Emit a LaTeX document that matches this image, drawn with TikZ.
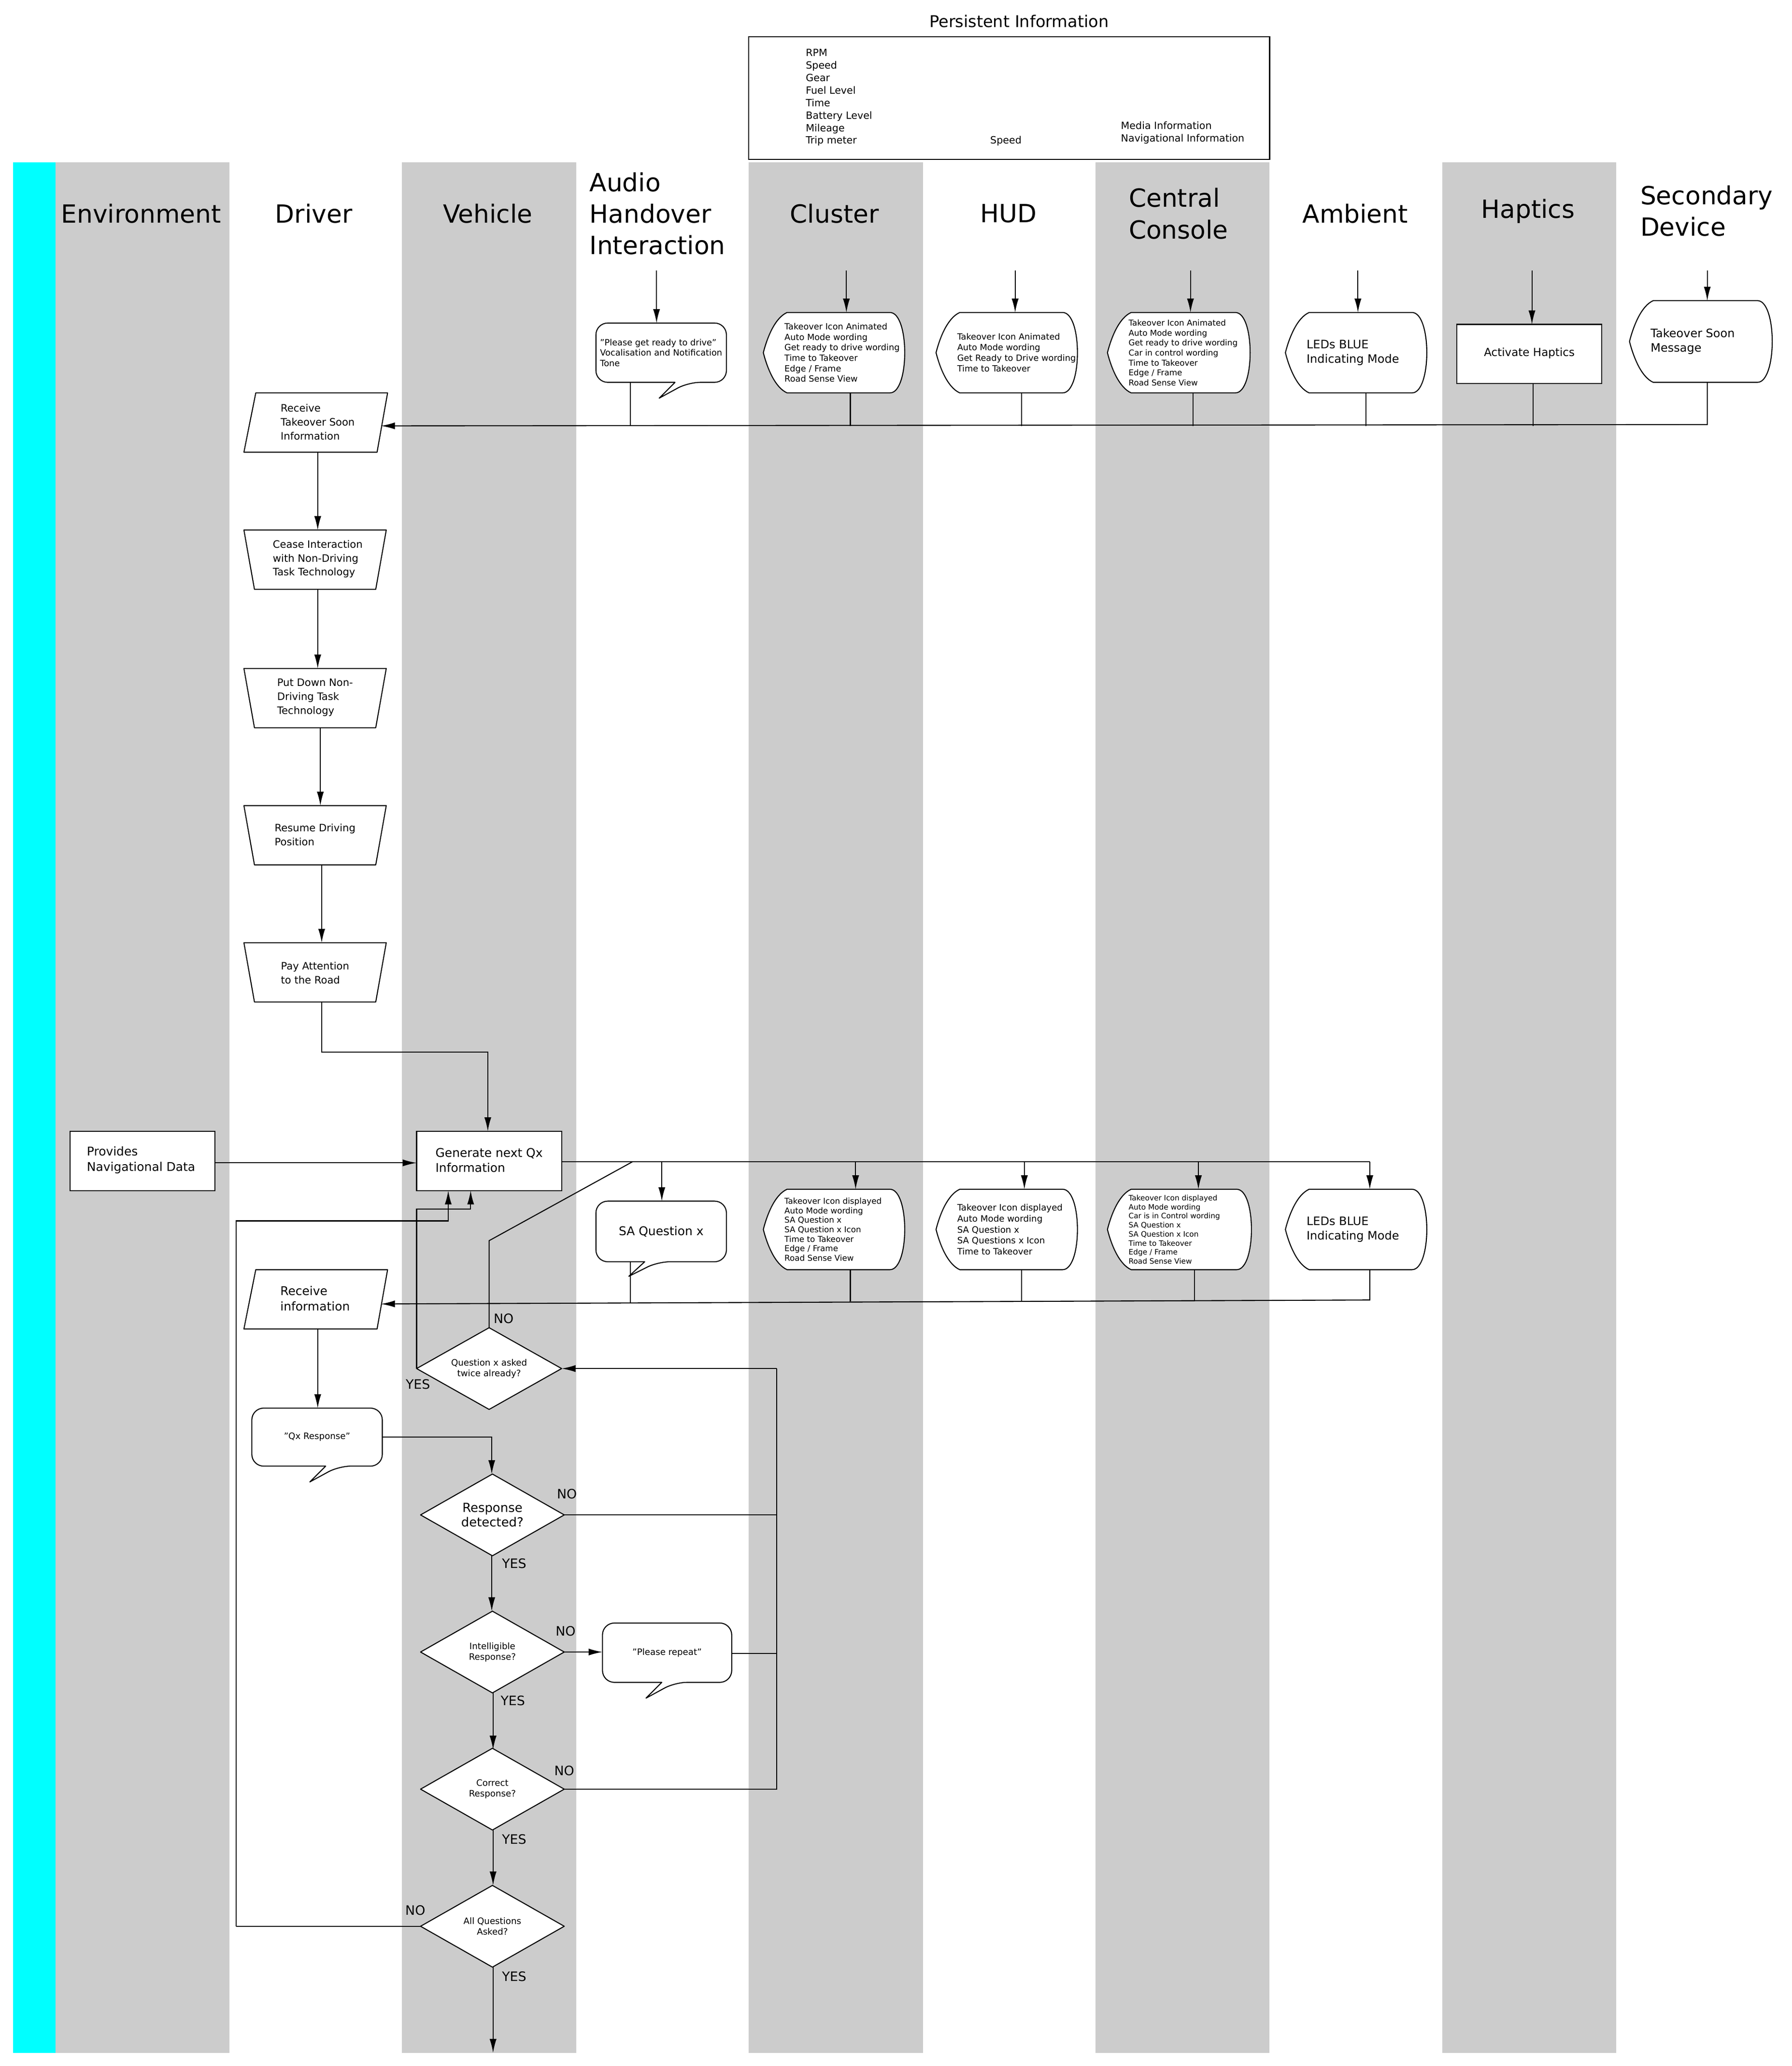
\documentclass[tikz,border=0pt]{standalone}
\usepackage{fontspec}
\setmainfont{DejaVu Sans}
\usetikzlibrary{arrows.meta}
\definecolor{lanegray}{RGB}{204,204,204}
\definecolor{lanecyan}{RGB}{0,255,255}
\tikzset{
 ln/.style={draw=black,line width=2.2pt},
 arr/.style={ln,-{Latex[length=30pt,width=15pt]}},
 shp/.style={ln,fill=white,line join=round},
 hdr/.style={font=\fontsize{54}{68}\selectfont,align=left},
 lbl/.style={font=\fontsize{28}{32}\selectfont},
 fmed/.style={font=\fontsize{26}{33}\selectfont},
 fsm/.style={font=\fontsize{22}{30}\selectfont},
 ftiny/.style={font=\fontsize{18.5}{22.5}\selectfont},
 fdia/.style={font=\fontsize{19}{23}\selectfont},
}
% name x1 y1 x2 y2 style text
\newcommand\mydisp[7]{%
 \draw[shp] ({#2+18},#3) -- ({#4-12},#3) .. controls ({#4+3},#3) and ({#4+3},#5) .. ({#4-12},#5) -- ({#2+18},#5) .. controls ({#2+9},{#5-4}) and ({#2+3},{(#3+#5)/2+12}) .. (#2,{(#3+#5)/2}) .. controls ({#2+3},{(#3+#5)/2-12}) and ({#2+9},{#3+4}) .. ({#2+18},#3) -- cycle;
 \node[#6,inner sep=0,align=left,anchor=west] (#1) at ({#2+16},{(#3+#5)/2}) {#7};}
% name x1 y1 x2 y2 tipx tipy style text
\newcommand\mycall[9]{%
 \draw[shp,rounded corners=9mm] (#2,#3) -- (#4,#3) -- (#4,#5) -- ({#6+22},#5) [sharp corners] -- (#6,#7) -- ({#6+12},#5) [rounded corners=9mm] -- (#2,#5) -- cycle;
 \node[#8,inner sep=0,minimum width={(#4-#2)*1mm},minimum height={(#5-#3)*1mm},align=left] (#1) at ({(#2+#4)/2},{(#3+#5)/2}) {#9};}
\newcommand\mydia[6]{%
 \draw[shp] (#2,#3) -- ({(#2+#4)/2},{#3-31}) -- (#4,#3) -- ({(#2+#4)/2},{#3+31}) -- cycle;
 \node[#5,inner sep=0,minimum width={(#4-#2)*1mm},minimum height=62mm,align=center] (#1) at ({(#2+#4)/2},#3) {#6};}
\begin{document}
\begin{tikzpicture}[x=1mm,y=-1mm]
\useasboundingbox (0,0) rectangle (1359,1567);
\fill[white] (0,0) rectangle (1359,1567);
% lanes
\fill[lanecyan] (10,123) rectangle (42,1557);
\foreach \a in {42,305,568,831,1094}{\fill[lanegray] (\a,123) rectangle ({\a+132},1557);}
% headers
\node[hdr] (hEnv) at (107,162) {Environment};
\node[hdr] (hDrv) at (238,162) {Driver};
\node[hdr] (hVeh) at (370,162) {Vehicle};
\node[hdr,anchor=west] (hAud) at (446,162) {Audio\\Handover\\Interaction};
\node[hdr] (hClu) at (633,162) {Cluster};
\node[hdr] (hHud) at (765,162) {HUD};
\node[hdr,anchor=west] (hCen) at (855,162) {Central\\Console};
\node[hdr] (hAmb) at (1028,162) {Ambient};
\node[hdr] (hHap) at (1159,160) {Haptics};
\node[hdr,anchor=west] (hSec) at (1243,160) {Secondary\\Device};
% persistent info
\node[font=\fontsize{35}{40}\selectfont] (pTitle) at (773,16) {Persistent Information};
\draw[ln,fill=white] (568,28) rectangle (963,121);
\node[align=left,anchor=north west,font=\fontsize{21.5}{27}\selectfont] (pL) at (610,36) {RPM\\Speed\\Gear\\Fuel Level\\Time\\Battery Level\\Mileage\\Trip meter};
\node[font=\fontsize{21.5}{27}\selectfont] (pS) at (763,107) {Speed};
\node[align=left,anchor=north west,font=\fontsize{21.5}{27}\selectfont] (pR) at (849,91) {Media Information\\Navigational Information};
% ---------- top row
\mycall{aud1}{452}{245}{551}{290}{500}{302}{ftiny}{"Please get ready to drive"\\Vocalisation and Notification\\Tone}
\mydisp{clu1}{579}{237}{687}{298}{ftiny}{Takeover Icon Animated\\Auto Mode wording\\Get ready to drive wording\\Time to Takeover\\Edge / Frame\\Road Sense View}
\mydisp{hud1}{710}{237}{818}{298}{ftiny,font=\fontsize{18.5}{23}\selectfont}{Takeover Icon Animated\\Auto Mode wording\\Get Ready to Drive wording\\Time to Takeover}
\mydisp{cen1}{840}{237}{949}{298}{ftiny,font=\fontsize{17.5}{21.5}\selectfont}{Takeover Icon Animated\\Auto Mode wording\\Get ready to drive wording\\Car in control wording\\Time to Takeover\\Edge / Frame\\Road Sense View}
\mydisp{amb1}{975}{237}{1083}{298}{fsm,font=\fontsize{25}{32}\selectfont}{LEDs BLUE\\Indicating Mode}
\draw[ln,fill=white] (1105,246) rectangle (1215,291);
\node[fsm,font=\fontsize{24}{30}\selectfont] (hap1) at (1160,268) {Activate Haptics};
\mydisp{sec1}{1236}{228}{1345}{290}{fsm,font=\fontsize{25}{32}\selectfont}{Takeover Soon\\Message}
\foreach \x/\yb in {498/245,642/237,770/237,903/237,1030/237,1162/246,1295/228}{\draw[arr] (\x,205) -- (\x,\yb);}
\foreach \x/\yt in {478/290,645/298,775/298,905/298,1036/298,1163/291}{\draw[ln] (\x,\yt) -- (\x,323);}
\coordinate (rtin) at (289,323);
\draw[arr] (1295,290) -- (1295,322) -- (rtin);
% ---------- driver chain
\draw[shp] (194,298) -- (294,298) -- (286,343) -- (185,343) -- cycle;
\node[fsm,align=left] (rt) at (241,320) {Receive\\Takeover Soon\\Information};
\draw[shp] (185,402) -- (293,402) -- (285,447) -- (193,447) -- cycle;
\node[fsm,align=left] (cease) at (241,424) {Cease Interaction\\with Non-Driving\\Task Technology};
\draw[shp] (185,507) -- (293,507) -- (285,552) -- (193,552) -- cycle;
\node[fsm,align=left] (put) at (239,529) {Put Down Non-\\Driving Task\\Technology};
\draw[shp] (185,611) -- (293,611) -- (285,656) -- (193,656) -- cycle;
\node[fsm,align=left] (res) at (239,633) {Resume Driving\\Position};
\draw[shp] (185,715) -- (293,715) -- (285,760) -- (193,760) -- cycle;
\node[fsm,align=left] (pay) at (239,738) {Pay Attention\\to the Road};
\draw[arr] (241,343) -- (241,402);
\draw[arr] (241,447) -- (241,507);
\draw[arr] (243,552) -- (243,611);
\draw[arr] (244,656) -- (244,715);
% ---------- vehicle
\draw[ln,fill=white] (316,858) rectangle (426,903);
\node[fmed,align=left] (gen) at (371,880) {Generate next Qx\\Information};
\draw[ln,fill=white] (53,858) rectangle (163,903);
\node[fmed,align=left] (nav) at (107,880) {Provides\\Navigational Data};
\draw[arr] (244,760) -- (244,798) -- (370,798) -- (370,858);
\draw[arr] (163,882) -- (316,882);
\draw[ln] (426,881) -- (1039,881);
% ---------- second row
\mycall{saq}{452}{911}{551}{957}{477}{968}{fmed}{SA Question x}
\mydisp{clu2}{579}{902}{687}{963}{ftiny,font=\fontsize{17.5}{20.5}\selectfont}{Takeover Icon displayed\\Auto Mode wording\\SA Question x\\SA Question x Icon\\Time to Takeover\\Edge / Frame\\Road Sense View}
\mydisp{hud2}{710}{902}{818}{963}{ftiny,font=\fontsize{19}{23.5}\selectfont}{Takeover Icon displayed\\Auto Mode wording\\SA Question x\\SA Questions x Icon\\Time to Takeover}
\mydisp{cen2}{840}{902}{950}{963}{ftiny,font=\fontsize{16}{19.5}\selectfont}{Takeover Icon displayed\\Auto Mode wording\\Car is in Control wording\\SA Question x\\SA Question x Icon\\Time to Takeover\\Edge / Frame\\Road Sense View}
\mydisp{amb2}{975}{902}{1083}{963}{fsm,font=\fontsize{25}{32}\selectfont}{LEDs BLUE\\Indicating Mode}
\foreach \x/\yb in {502/911,649/902,777/902,909/902,1039/902}{\draw[arr] (\x,881) -- (\x,\yb);}
\foreach \x in {645,775,906}{\draw[ln] (\x,963) -- (\x,987);}
\draw[ln] (478,957) -- (478,988);
\coordinate (riin) at (289,989);
\draw[arr] (1039,963) -- (1039,986) -- (riin);
\draw[shp] (194,963) -- (294,963) -- (286,1008) -- (185,1008) -- cycle;
\node[fmed,align=left] (ri) at (239,985) {Receive\\information};
\mycall{qxr}{191}{1068}{290}{1112}{235}{1124}{ftiny,font=\fontsize{19}{23}\selectfont}{"Qx Response"}
\draw[arr] (241,1008) -- (241,1068);
% decisions
\mydia{dq}{316}{1038}{426}{fdia}{Question x asked\\twice already?}
\mydia{drd}{319}{1149}{428}{fmed,font=\fontsize{27}{31}\selectfont}{Response\\detected?}
\mydia{dint}{319}{1253}{428}{fdia}{Intelligible\\Response?}
\mydia{dcor}{319}{1357}{428}{fdia}{Correct\\Response?}
\mydia{dall}{319}{1461}{428}{fdia}{All Questions\\Asked?}
\mycall{rep}{457}{1231}{555}{1276}{490}{1288}{fdia}{"Please repeat"}
\draw[ln] (371,1007) -- (371,941) -- (480,881);
\draw[arr] (316,1038) -- (316,917) -- (357,917) -- (357,903);
\draw[arr] (179,1461) -- (179,926) -- (340,926) -- (340,903);
\draw[arr] (290,1090) -- (373,1090) -- (373,1118);
\draw[arr] (373,1180) -- (373,1222);
\draw[arr] (374,1284) -- (374,1327);
\draw[arr] (374,1388) -- (374,1430);
\draw[arr] (374,1492) -- (374,1557);
\draw[arr] (428,1253) -- (457,1253);
\draw[ln] (428,1149) -- (589,1149);
\draw[ln] (555,1254) -- (589,1254);
\draw[ln] (428,1357) -- (589,1357) -- (589,1038);
\draw[arr] (589,1038) -- (426,1038);
\draw[ln] (319,1461) -- (179,1461);
% labels
\node[lbl] (l1) at (382,1000) {NO};
\node[lbl] (l2) at (317,1050) {YES};
\node[lbl] (l3) at (430,1133) {NO};
\node[lbl] (l4) at (390,1186) {YES};
\node[lbl] (l5) at (429,1237) {NO};
\node[lbl] (l6) at (389,1290) {YES};
\node[lbl] (l7) at (428,1343) {NO};
\node[lbl] (l8) at (390,1395) {YES};
\node[lbl] (l9) at (315,1449) {NO};
\node[lbl] (l10) at (390,1499) {YES};
\end{tikzpicture}
\end{document}
